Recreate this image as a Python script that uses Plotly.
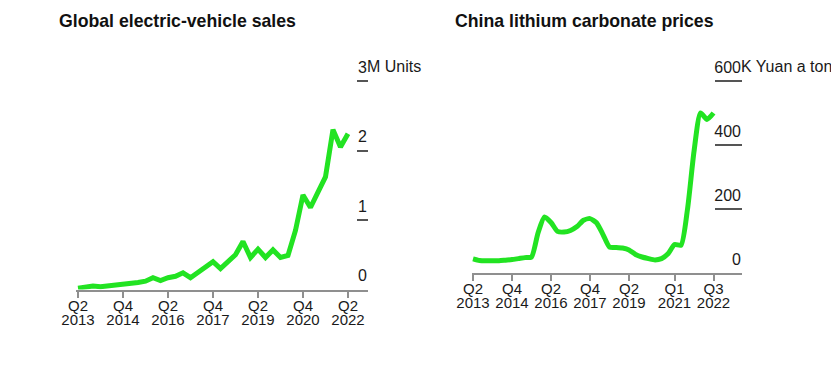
import plotly.graph_objects as go

# page body has an 8px margin; size the figure to fit the 839x392 window
OFF = 8
W, H = 839 - OFF, 392 - OFF

quarters = ["2013Q2", "2013Q3", "2013Q4",
            "2014Q1", "2014Q2", "2014Q3", "2014Q4",
            "2015Q1", "2015Q2", "2015Q3", "2015Q4",
            "2016Q1", "2016Q2", "2016Q3", "2016Q4",
            "2017Q1", "2017Q2", "2017Q3", "2017Q4",
            "2018Q1", "2018Q2", "2018Q3", "2018Q4",
            "2019Q1", "2019Q2", "2019Q3", "2019Q4",
            "2020Q1", "2020Q2", "2020Q3", "2020Q4",
            "2021Q1", "2021Q2", "2021Q3", "2021Q4",
            "2022Q1", "2022Q2", "2022Q3"]

# Global EV sales, million units (2013Q2 .. 2022Q2)
ev_sales = [0.02, 0.04, 0.05, 0.04, 0.05, 0.07, 0.07, 0.08, 0.10, 0.12,
            0.17, 0.13, 0.17, 0.19, 0.24, 0.17, 0.24, 0.31, 0.40, 0.30,
            0.40, 0.50, 0.69, 0.46, 0.58, 0.46, 0.57, 0.46, 0.49, 0.85,
            1.36, 1.18, 1.40, 1.62, 2.30, 2.05, 2.24]

# China lithium carbonate price, thousand yuan a ton (2013Q2 .. 2022Q3)
li_price = [44, 39, 38, 38, 38, 40, 42, 45, 48, 50,
            125, 175, 158, 130, 128, 133, 145, 165, 170, 157,
            120, 81, 80, 78, 72, 58, 50, 45, 41, 45,
            60, 89, 87, 200, 380, 500, 480, 500]

left_tickvals = ["2013Q2", "2014Q4", "2016Q2", "2017Q4", "2019Q2", "2020Q4", "2022Q2"]
left_q = ["Q2", "Q4", "Q2", "Q4", "Q2", "Q4", "Q2"]
left_years = ["2013", "2014", "2016", "2017", "2019", "2020", "2022"]

right_tickvals = ["2013Q2", "2014Q4", "2016Q2", "2017Q4", "2019Q2", "2021Q1", "2022Q3"]
right_q = ["Q2", "Q4", "Q2", "Q4", "Q2", "Q1", "Q3"]
right_years = ["2013", "2014", "2016", "2017", "2019", "2021", "2022"]

left_yvals = [0, 1, 2, 3]
left_ytext = ["0", "1", "2", "3"]
right_yvals = [0, 200, 400, 600]
right_ytext = ["0", "200", "400", "600"]

left_title = "Global electric-vehicle sales"
right_title = "China lithium carbonate prices"
left_unit = "M Units"
right_unit = "K Yuan a ton"

GREEN = "#22e322"
AXIS = "#8f8f8f"
DASH = "#555555"
TXT = "#1a1a1a"
FONT = "Liberation Sans, Arial, Helvetica, sans-serif"


def px(x):
    return (x - OFF) / W


def py(y):
    return 1 - (y - OFF) / H


fig = go.Figure()
fig.add_trace(go.Scatter(x=quarters[:len(ev_sales)], y=ev_sales, mode="lines",
                         line=dict(color=GREEN, width=5), xaxis="x", yaxis="y",
                         showlegend=False, hoverinfo="skip"))
fig.add_trace(go.Scatter(x=quarters[:len(li_price)], y=li_price, mode="lines",
                         line=dict(color=GREEN, width=5, shape="spline", smoothing=0.6),
                         xaxis="x2", yaxis="y2", showlegend=False, hoverinfo="skip"))
# invisible carriers for the year-label axes
fig.add_trace(go.Scatter(x=quarters[:len(ev_sales)], y=ev_sales, mode="lines",
                         line=dict(width=0), opacity=0, xaxis="x3", yaxis="y",
                         showlegend=False, hoverinfo="skip"))
fig.add_trace(go.Scatter(x=quarters[:len(li_price)], y=li_price, mode="lines",
                         line=dict(width=0), opacity=0, xaxis="x4", yaxis="y2",
                         showlegend=False, hoverinfo="skip"))

lx = [px(76), px(368)]
rx = [px(472), px(742)]
ly = [py(289.5), py(53)]
ry = [py(273), py(53)]
lrange = [-0.267, 38.67]
rrange = [-0.154, 41.38]


def xq(domain, rng, tickvals, ticktext):
    return dict(domain=domain, range=rng, type="category", categoryorder="array",
                categoryarray=quarters, showline=True, linecolor=AXIS, linewidth=2,
                ticks="outside", ticklen=6, tickwidth=2, tickcolor=AXIS,
                tickvals=tickvals, ticktext=ticktext, showgrid=False, zeroline=False,
                ticklabelstandoff=-5,
                tickfont=dict(family=FONT, size=15, color=TXT), layer="below traces",
                automargin=False, fixedrange=True)


def xy(overlay, anchor, rng, tickvals, ticktext):
    return dict(overlaying=overlay, anchor=anchor, range=rng, type="category",
                categoryorder="array", categoryarray=quarters, showline=False,
                ticks="outside", ticklen=21, tickwidth=1, tickcolor="rgba(0,0,0,0)",
                tickvals=tickvals, ticktext=ticktext, showgrid=False,
                zeroline=False, automargin=False, ticklabelstandoff=-5,
                tickfont=dict(family=FONT, size=15, color=TXT), fixedrange=True)


def yax(domain, anchor, rng, tickvals, ticktext, ticklen):
    return dict(domain=domain, anchor=anchor, range=rng, side="right", showline=False,
                showgrid=False, zeroline=False, ticks="inside", ticklen=ticklen,
                tickwidth=1.5, tickcolor=DASH, tickvals=tickvals, ticktext=ticktext,
                ticklabelposition="inside top", ticklabelshift=-2, ticklabelstandoff=-2,
                tickfont=dict(family=FONT, size=16, color=TXT), automargin=False,
                fixedrange=True)


fig.update_layout(
    width=W, height=H, margin=dict(l=0, r=0, t=0, b=0, autoexpand=False),
    paper_bgcolor="white", plot_bgcolor="white",
    xaxis=dict(xq(lx, lrange, left_tickvals, left_q), anchor="y"),
    xaxis2=dict(xq(rx, rrange, right_tickvals, right_q), anchor="y2"),
    xaxis3=xy("x", "y", lrange, left_tickvals, left_years),
    xaxis4=xy("x2", "y2", rrange, right_tickvals, right_years),
    yaxis=yax(ly, "x", [0, 3.403], left_yvals, left_ytext, 11),
    yaxis2=yax(ry, "x2", [0, 687.5], right_yvals, right_ytext, 27),
    annotations=[
        dict(text=f"<b>{left_title}</b>", xref="paper", yref="paper", x=px(57),
             y=py(9.2), xanchor="left", yanchor="top", showarrow=False,
             font=dict(family=FONT, size=17.7, color="#111111")),
        dict(text=f"<b>{right_title}</b>", xref="paper", yref="paper", x=px(453),
             y=py(9.2), xanchor="left", yanchor="top", showarrow=False,
             font=dict(family=FONT, size=17.7, color="#111111")),
        dict(text=left_unit, xref="x domain", yref="y", x=1, y=left_yvals[-1],
             xanchor="left", yanchor="bottom", showarrow=False, yshift=4, xshift=-3,
             font=dict(family=FONT, size=16, color=TXT)),
        dict(text=right_unit, xref="x2 domain", yref="y2", x=1, y=right_yvals[-1],
             xanchor="left", yanchor="bottom", showarrow=False, yshift=4, xshift=-3,
             font=dict(family=FONT, size=16, color=TXT)),
    ],
)

fig.write_html("out.html")
